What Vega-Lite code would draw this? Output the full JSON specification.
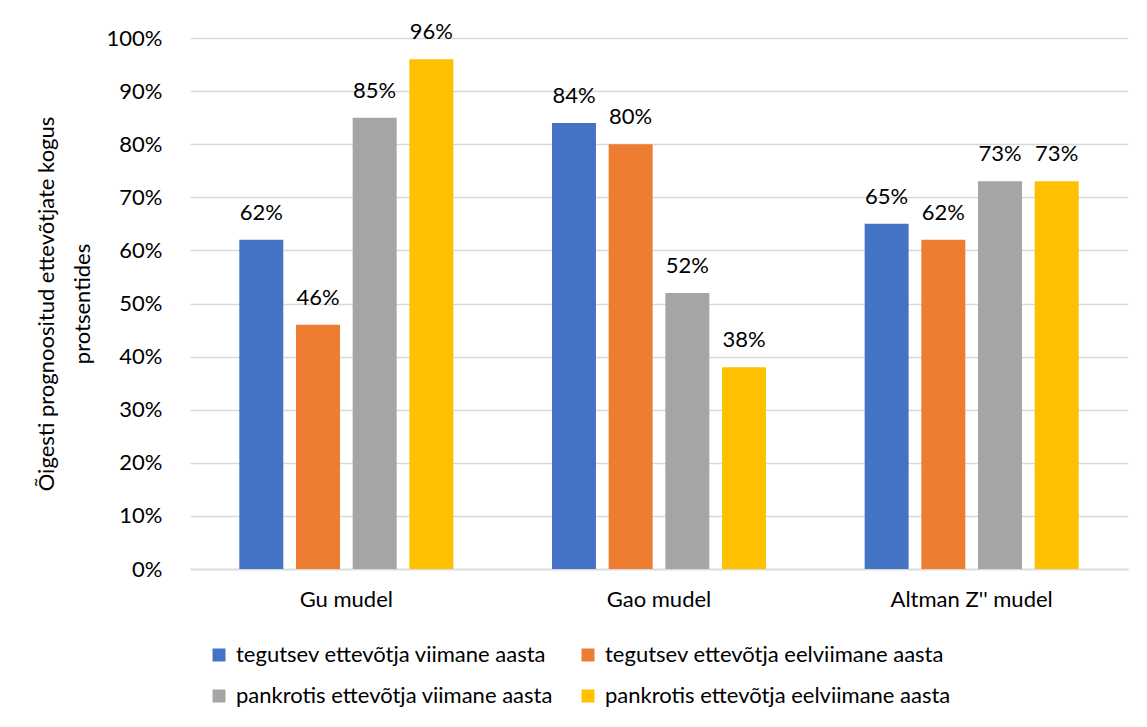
{
  "$schema": "https://vega.github.io/schema/vega-lite/v6.json",
  "autosize": {"type": "none"},
  "width": 938,
  "height": 531,
  "padding": {"left": 190, "top": 38, "right": 19, "bottom": 158},
  "background": "white",
  "config": {
    "view": {"stroke": null},
    "font": "Lato",
    "text": {"font": "Lato"}
  },
  "data": {
    "values": [
      {"mudel": "Gu mudel", "seeria": "tegutsev ettevõtja viimane aasta", "osakaal": 0.62},
      {"mudel": "Gu mudel", "seeria": "tegutsev ettevõtja eelviimane aasta", "osakaal": 0.46},
      {"mudel": "Gu mudel", "seeria": "pankrotis ettevõtja viimane aasta", "osakaal": 0.85},
      {"mudel": "Gu mudel", "seeria": "pankrotis ettevõtja eelviimane aasta", "osakaal": 0.96},
      {"mudel": "Gao mudel", "seeria": "tegutsev ettevõtja viimane aasta", "osakaal": 0.84},
      {"mudel": "Gao mudel", "seeria": "tegutsev ettevõtja eelviimane aasta", "osakaal": 0.80},
      {"mudel": "Gao mudel", "seeria": "pankrotis ettevõtja viimane aasta", "osakaal": 0.52},
      {"mudel": "Gao mudel", "seeria": "pankrotis ettevõtja eelviimane aasta", "osakaal": 0.38},
      {"mudel": "Altman Z'' mudel", "seeria": "tegutsev ettevõtja viimane aasta", "osakaal": 0.65},
      {"mudel": "Altman Z'' mudel", "seeria": "tegutsev ettevõtja eelviimane aasta", "osakaal": 0.62},
      {"mudel": "Altman Z'' mudel", "seeria": "pankrotis ettevõtja viimane aasta", "osakaal": 0.73},
      {"mudel": "Altman Z'' mudel", "seeria": "pankrotis ettevõtja eelviimane aasta", "osakaal": 0.73}
    ]
  },
  "encoding": {
    "x": {
      "field": "mudel",
      "type": "nominal",
      "sort": ["Gu mudel", "Gao mudel", "Altman Z'' mudel"],
      "scale": {"paddingInner": 0, "paddingOuter": 0},
      "axis": {
        "title": null,
        "labelAngle": 0,
        "labelFont": "Lato",
        "labelFontSize": 22,
        "labelColor": "#000000",
        "labelPadding": 20,
        "ticks": false,
        "domainColor": "#d9d9d9",
        "domainWidth": 1.5,
        "grid": false
      }
    },
    "xOffset": {
      "field": "seeria",
      "type": "nominal",
      "sort": [
        "tegutsev ettevõtja viimane aasta",
        "tegutsev ettevõtja eelviimane aasta",
        "pankrotis ettevõtja viimane aasta",
        "pankrotis ettevõtja eelviimane aasta"
      ],
      "scale": {"paddingInner": 0.224, "paddingOuter": 0.87}
    },
    "y": {
      "field": "osakaal",
      "type": "quantitative",
      "scale": {"domain": [0, 1], "nice": false},
      "axis": {
        "title": ["Õigesti prognoositud ettevõtjate kogus", "protsentides"],
        "titleFont": "Lato",
        "titleFontSize": 22,
        "titleFontWeight": "normal",
        "titleColor": "#000000",
        "titleLineHeight": 36,
        "titlePadding": 12,
        "format": ".0%",
        "values": [0, 0.1, 0.2, 0.3, 0.4, 0.5, 0.6, 0.7, 0.8, 0.9, 1],
        "labelOverlap": false,
        "labelFont": "Lato",
        "labelFontSize": 22,
        "labelColor": "#000000",
        "labelPadding": 28,
        "ticks": false,
        "domain": false,
        "gridColor": "#d9d9d9",
        "gridWidth": 1.5
      }
    }
  },
  "layer": [
    {
      "mark": {"type": "bar", "width": {"band": 1}},
      "encoding": {
        "color": {
          "field": "seeria",
          "type": "nominal",
          "sort": [
            "tegutsev ettevõtja viimane aasta",
            "tegutsev ettevõtja eelviimane aasta",
            "pankrotis ettevõtja viimane aasta",
            "pankrotis ettevõtja eelviimane aasta"
          ],
          "scale": {"range": ["#4472C4", "#ED7D31", "#A5A5A5", "#FFC000"]},
          "legend": {
            "title": null,
            "orient": "none",
            "legendX": 18,
            "legendY": 606,
            "direction": "horizontal",
            "columns": 2,
            "columnPadding": 24,
            "rowPadding": 19,
            "symbolType": "square",
            "symbolSize": 169,
            "symbolStrokeWidth": 0,
            "labelFont": "Lato",
            "labelFontSize": 22,
            "labelColor": "#000000",
            "labelOffset": 6,
            "labelLimit": 500
          }
        }
      }
    },
    {
      "mark": {
        "type": "text",
        "baseline": "alphabetic",
        "dy": -20,
        "fontSize": 22,
        "font": "Lato",
        "color": "#000000"
      },
      "encoding": {
        "text": {"field": "osakaal", "type": "quantitative", "format": ".0%"}
      }
    }
  ]
}
